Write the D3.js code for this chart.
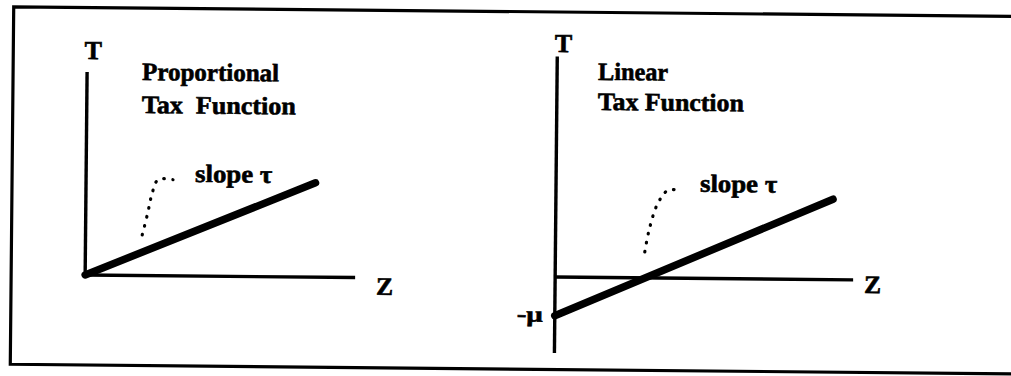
<!DOCTYPE html>
<html>
<head>
<meta charset="utf-8">
<script src="https://cdn.jsdelivr.net/npm/d3@7/dist/d3.min.js"></script>
<style>
  html, body { margin: 0; padding: 0; background: #fff; }
  svg text { font-family: "Liberation Serif", "Times New Roman", serif; font-weight: bold; fill: #000; stroke: #000; stroke-width: 0.6px; white-space: pre; }
</style>
</head>
<body>
<div id="chart"></div>
<script>
// left panel: proportional tax T = tau * Z
const propTau = 0.41;
const propZ = [0, 8.5];
const propGuide = [[2.1, 1.5], [2.3, 2.33], [2.44, 2.99], [2.67, 3.55], [3.22, 3.55]];
const propTitle = ['Proportional', 'Tax  Function'];

// right panel: linear tax T = -mu + tau * Z
const linMu = 1.3;
const linTau = 0.43;
const linZ = [0, 9.3];
const linGuide = [[3.0, 0.87], [3.15, 1.66], [3.42, 2.5], [3.76, 2.95], [4.1, 2.95]];
const linTitle = ['Linear', 'Tax Function'];

const slopeLabel = 'slope \u03c4';
const axisLabels = { y: 'T', x: 'Z', intercept: '-\u03bc' };

const W = 1011, H = 376;

const svg = d3.select('#chart')
    .append('svg')
    .attr('width', W)
    .attr('height', H);

// scanned page is a little tilted
const page = svg.append('g')
    .attr('transform', 'rotate(0.55, 505, 188)');

page.append('path')
    .attr('d', 'M1016,11.5 L12,11.5 L12,369 L1016,369')
    .attr('fill', 'none')
    .attr('stroke', '#000')
    .attr('stroke-width', 3.2);

function drawPanel(opt) {
    const x = opt.x, y = opt.y;
    const g = page.append('g');

    // axes
    g.append('line')
        .attr('x1', x(0)).attr('y1', y(opt.yTop))
        .attr('x2', x(0)).attr('y2', y(opt.yBottom))
        .attr('stroke', '#000').attr('stroke-width', 3.4);
    g.append('line')
        .attr('x1', x(0)).attr('y1', y(0))
        .attr('x2', x(opt.xEnd)).attr('y2', y(0))
        .attr('stroke', '#000').attr('stroke-width', 3.4);

    // tax function
    const pts = opt.zs.map(z => [z, -opt.mu + opt.tau * z]);
    g.append('path')
        .attr('d', d3.line().x(d => x(d[0])).y(d => y(d[1]))(pts))
        .attr('fill', 'none')
        .attr('stroke', '#000')
        .attr('stroke-width', 7.5)
        .attr('stroke-linecap', 'round');

    // dotted pointer to slope label
    g.append('path')
        .attr('d', d3.line().curve(d3.curveCatmullRom).x(d => x(d[0])).y(d => y(d[1]))(opt.guide))
        .attr('fill', 'none')
        .attr('stroke', '#000')
        .attr('stroke-width', 3.2)
        .attr('stroke-linecap', 'round')
        .attr('stroke-dasharray', '0.6 8.5');

    const txt = (s, px, py, size, len) => {
        const t = g.append('text')
            .attr('x', px).attr('y', py)
            .attr('font-size', size)
            .text(s);
        if (len) t.attr('textLength', len).attr('lengthAdjust', 'spacingAndGlyphs');
        return t;
    };

    txt(opt.title[0], opt.titleX, opt.titleY[0], 25, opt.titleLen[0]);
    txt(opt.title[1], opt.titleX, opt.titleY[1], 25, opt.titleLen[1]);
    txt(slopeLabel, opt.slopeX, opt.slopeY, 25, 77);
    txt(axisLabels.y, x(0) + opt.tDx, opt.tY, 26).attr('text-anchor', 'middle');
    txt(axisLabels.x, opt.zX, y(0) + opt.zDy, 25, 17);
    if (opt.mu > 0) {
        txt(axisLabels.intercept, x(0) - 12, y(-opt.mu) + 6, 22, 26).attr('text-anchor', 'end');
    }
}

drawPanel({
    x: d3.scaleLinear().domain([0, 10]).range([86, 356]),
    y: d3.scaleLinear().domain([0, 7.5]).range([279, 76]),
    yTop: 7.5, yBottom: 0, xEnd: 10,
    mu: 0, tau: propTau, zs: propZ, guide: propGuide,
    title: propTitle, titleX: 141, titleY: [83.5, 116.5], titleLen: [137, 154],
    slopeX: 195, slopeY: 185,
    tDx: 6, tY: 63, zX: 377, zDy: 17
});

drawPanel({
    x: d3.scaleLinear().domain([0, 10]).range([556, 854]),
    y: d3.scaleLinear().domain([-2.55, 7.55]).range([352.5, 51.5]),
    yTop: 7.4, yBottom: -2.55, xEnd: 10,
    mu: linMu, tau: linTau, zs: linZ, guide: linGuide,
    title: linTitle, titleX: 597, titleY: [79, 109], titleLen: [70, 146],
    slopeX: 700, slopeY: 190,
    tDx: 6, tY: 51.5, zX: 865, zDy: 13
});
</script>
</body>
</html>
